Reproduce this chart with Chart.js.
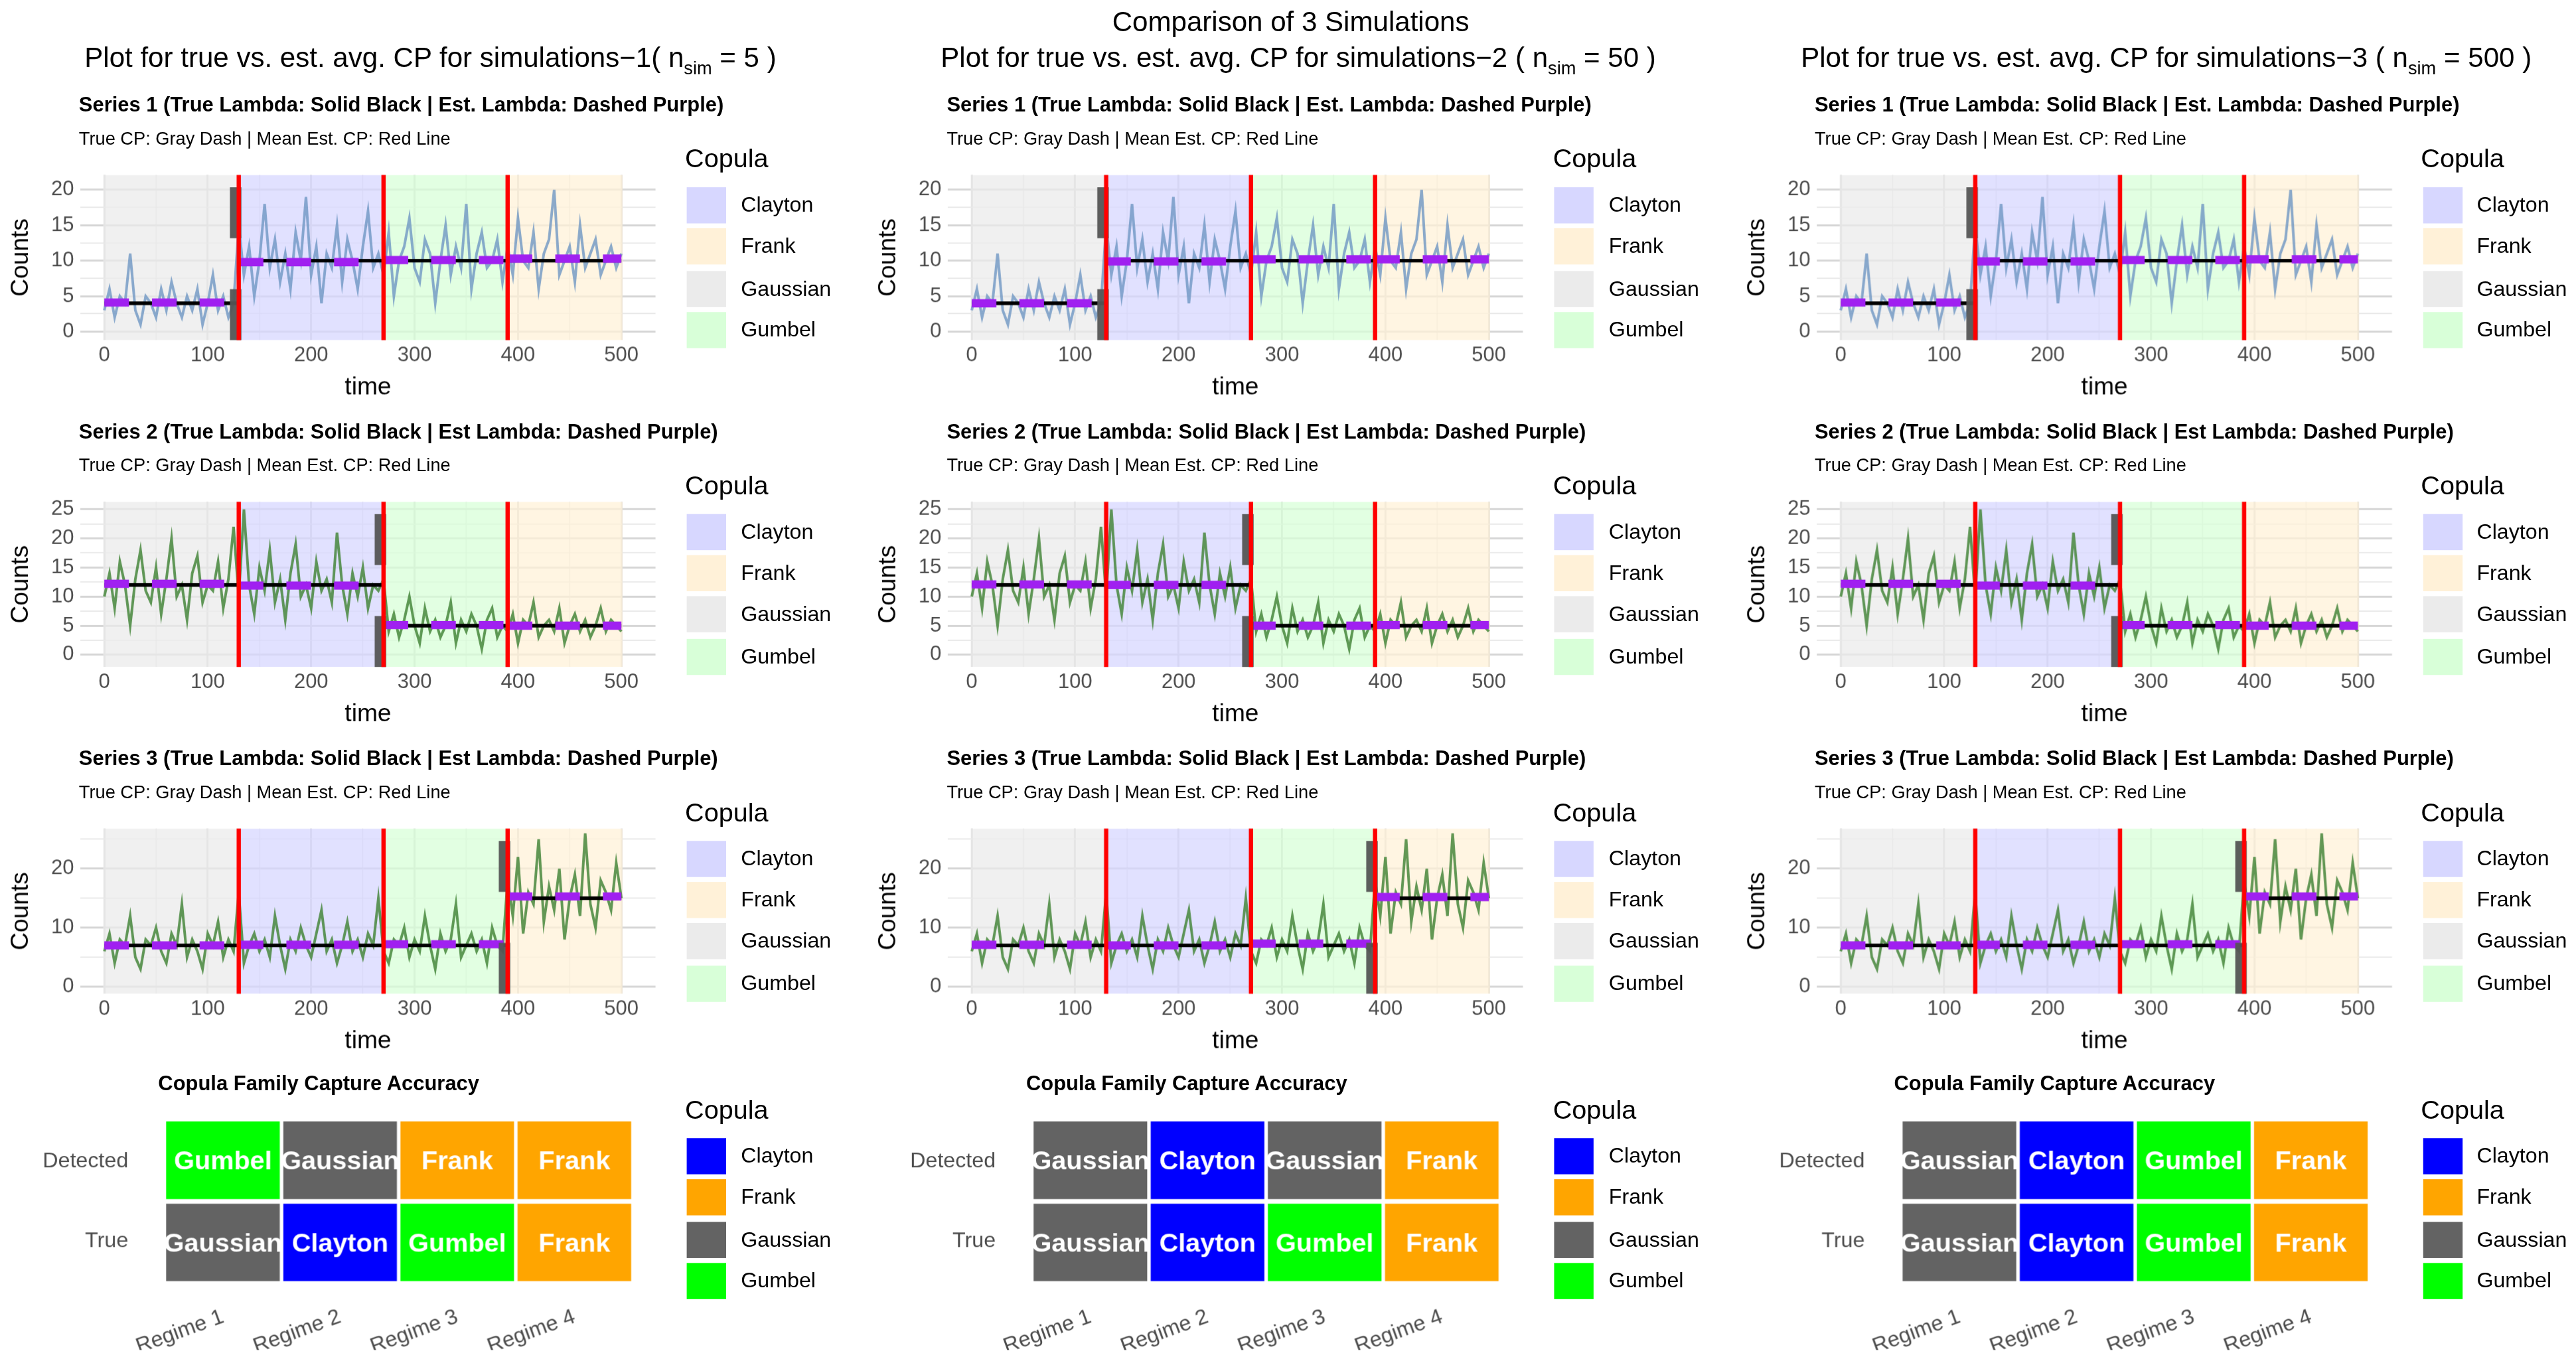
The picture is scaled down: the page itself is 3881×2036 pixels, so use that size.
<!DOCTYPE html>
<html><head><meta charset="utf-8">
<script src="https://cdn.jsdelivr.net/npm/chart.js@4"></script>
<style>
html,body{margin:0;padding:0;background:#fff;overflow:hidden}
#root{position:absolute;left:0;top:0;width:1568px;height:823px;transform:scale(2.4751);transform-origin:0 0;font-family:"Liberation Sans",Arial,sans-serif;color:#000}
.t{position:absolute;white-space:nowrap}
canvas{position:absolute}
.lb{position:absolute;width:24px;height:22px}
</style></head><body><div id="root"></div>
<script>
// ---------- DATA ----------
const timeStep = 5;
const series1Values = [3,6,2,5,4,11,3,1,5,4,2,6,3,7,4,2,5,3,6,1,4,8,3,5,2,4,
 15,8,12,5,10,18,9,13,7,11,6,14,10,19,8,12,4,11,9,15,7,13,10,6,12,17,9,11,8,14,5,10,12,16,9,7,13,11,4,10,15,8,12,9,18,6,11,14,9,10,13,7,12,8,16,10,9,14,6,11,13,20,8,10,12,7,15,9,11,13,8,10,12,9,11];
const series2Values = [10,14,8,16,12,5,13,18,11,9,15,7,13,20,10,12,6,14,17,9,12,11,16,8,13,22,10,25,12,7,15,11,18,9,13,6,14,19,10,12,8,16,11,13,9,21,12,7,14,10,15,8,12,11,
 13,4,7,3,6,10,5,2,8,4,6,3,5,9,2,6,4,7,5,1,6,8,3,5,4,7,2,6,5,9,3,5,6,4,8,2,5,7,4,6,3,5,8,4,6,5,4];
const series3Values = [6,9,4,8,7,12,5,3,8,7,10,6,4,9,7,14,5,8,6,3,9,7,11,5,8,6,16,4,7,9,6,8,5,12,7,3,8,6,10,7,5,9,13,6,8,4,7,11,6,8,5,9,7,15,6,4,8,7,10,5,8,6,12,7,3,9,6,8,14,5,7,9,6,8,4,10,7,6,
 18,12,22,9,16,14,25,11,17,13,20,8,15,19,12,26,14,10,18,16,13,21,15];
const regimeBounds = [0,130,270,390,500];
const regimeFamilies = ["Gaussian","Clayton","Gumbel","Frank"];
const trueLambda = [[4,10,10,10],[12,12,5,5],[7,7,7,15]];
const trueCP = [127,267,387];
const estLambda = [
 [[4.1,9.8,10.1,10.3],[12.2,11.9,5.1,5.0],[7.0,7.1,7.2,15.3]],
 [[4.0,9.9,10.2,10.2],[12.1,12.0,5.0,5.1],[7.1,7.0,7.3,15.2]],
 [[4.1,9.9,10.1,10.2],[12.2,11.9,5.1,5.0],[7.0,7.1,7.2,15.3]]];
const estCP = [[130,270,390],[130,270,390],[130,270,390]];
const simSizes = [5,50,500];
const regimeLabels = ["Regime 1","Regime 2","Regime 3","Regime 4"];
const detectedFamilies = [["Gumbel","Gaussian","Frank","Frank"],["Gaussian","Clayton","Gaussian","Frank"],["Gaussian","Clayton","Gumbel","Frank"]];
const trueFamilies = ["Gaussian","Clayton","Gumbel","Frank"];
const legendNames = ["Clayton","Frank","Gaussian","Gumbel"];
// ---------- STYLE ----------
const regionFill = {Clayton:"rgb(215,215,255)",Frank:"rgb(255,241,216)",Gaussian:"rgb(235,235,235)",Gumbel:"rgb(216,255,216)"};
const tileFill = {Clayton:"#0000ff",Frank:"#ffa500",Gaussian:"#636363",Gumbel:"#00ff00"};
const seriesColor = ["rgba(110,150,195,0.8)","rgba(70,135,60,0.85)","rgba(70,135,60,0.85)"];
const yRanges = [[-1.2,22.1,[0,5,10,15,20],2.5],[-2.1,26.3,[0,5,10,15,20,25],2.5],[-1.2,26.8,[0,10,20],5]];
const seriesVals = [series1Values,series2Values,series3Values];
const root = document.getElementById('root');
const FONT = '"Liberation Sans", Arial, sans-serif';
Chart.defaults.font.family = FONT;
Chart.defaults.animation = false;
function txt(s,x,y,css){const d=document.createElement('div');d.className='t';d.innerHTML=s;d.style.left=x+'px';d.style.top=y+'px';d.style.cssText+=css||'';root.appendChild(d);return d;}
function legend(x,y,solid){
  txt('Copula',x,y-9,'font-size:16px;');
  legendNames.forEach((n,i)=>{const b=document.createElement('div');b.className='lb';b.style.left=(x+1)+'px';b.style.top=(y+17+i*25.3)+'px';b.style.background=solid?tileFill[n]:regionFill[n];root.appendChild(b);
    txt(n,x+34,y+20+i*25.3,'font-size:13px;');});
}
txt('Comparison of 3 Simulations',677,4,'font-size:17px;');
const regionsPlugin={id:'regions',beforeDatasetsDraw(ch,a,o){const p=ch.options.plugins.regions;if(!p||!p.on)return;const c=ch.ctx,xs=ch.scales.x,ca=ch.chartArea;
  c.save();c.beginPath();c.rect(ca.left,ca.top,ca.width,ca.height);c.clip();
  for(let i=0;i<4;i++){const x0=xs.getPixelForValue(regimeBounds[i]-(i==0?1:0)),x1=xs.getPixelForValue(regimeBounds[i+1]+(i==3?1:0));c.fillStyle=regionFill[regimeFamilies[i]];c.globalAlpha=0.75;c.fillRect(x0,ca.top,x1-x0,ca.height);}
  c.globalAlpha=1;c.restore();},
 afterDatasetsDraw(ch){const p=ch.options.plugins.regions;if(!p||!p.on)return;const c=ch.ctx,xs=ch.scales.x,ys=ch.scales.y,ca=ch.chartArea;
  c.save();
  const gx=xs.getPixelForValue(p.tcp);c.strokeStyle='rgba(85,85,85,0.95)';c.lineWidth=7;c.setLineDash([31,31]);c.beginPath();c.moveTo(gx,ca.bottom);c.lineTo(gx,ca.top);c.stroke();
  c.setLineDash([]);c.strokeStyle='#ff0000';c.lineWidth=2.6;
  p.ecp.forEach(v=>{const x=xs.getPixelForValue(v);c.beginPath();c.moveTo(x,ca.top);c.lineTo(x,ca.bottom);c.stroke();});
  c.restore();}};
Chart.register(regionsPlugin);
function segData(bounds,vals){const d=[];for(let i=0;i<4;i++){d.push({x:bounds[i],y:vals[i]});d.push({x:bounds[i+1],y:vals[i]});d.push({x:bounds[i+1],y:null});}return d;}
for(let c=0;c<3;c++){
  const ox=c*528.3;
  txt('Plot for true vs. est. avg. CP for simulations−'+(c+1)+(c==0?'(':' (')+' n<sub style="font-size:11px">sim</sub> = '+simSizes[c]+' )',ox+262,26,'font-size:17px;transform:translateX(-50%);');
  for(let r=0;r<3;r++){
    const oy=r*198.8;
    txt('Series '+(r+1)+(r==0?' (True Lambda: Solid Black | Est. Lambda: Dashed Purple)':' (True Lambda: Solid Black | Est Lambda: Dashed Purple)'),ox+48,oy+57,'font-size:12.5px;font-weight:bold;');
    txt('True CP: Gray Dash | Mean Est. CP: Red Line',ox+48,oy+78,'font-size:11px;');
    legend(ox+417,oy+97,false);
    const cv=document.createElement('canvas');cv.style.left=ox+'px';cv.style.top=(oy+95)+'px';cv.width=400;cv.height=150;cv.style.width='400px';cv.style.height='150px';root.appendChild(cv);
    const vals=seriesVals[r];const yr=yRanges[r];
    const pts=vals.map((v,i)=>({x:i*timeStep,y:v}));
    const estBounds=[0].concat(estCP[c]).concat([500]);
    new Chart(cv,{type:'line',data:{datasets:[
      {data:pts,borderColor:seriesColor[r],borderWidth:1.6,pointRadius:0,tension:0,order:3},
      {data:segData(regimeBounds,trueLambda[r]),borderColor:'#000',borderWidth:2.2,pointRadius:0,spanGaps:false,order:2},
      {data:segData(estBounds,estLambda[c][r]),borderColor:'#a020f0',borderWidth:5,borderDash:[15,14],pointRadius:0,spanGaps:false,order:1}]},
     options:{responsive:false,devicePixelRatio:2.4751,layout:{padding:{left:4,right:1,top:5,bottom:0}},
      plugins:{legend:{display:false},tooltip:{enabled:false},regions:{on:true,tcp:trueCP[r],ecp:estCP[c]}},
      scales:{x:{type:'linear',min:-23,max:533,border:{display:false},
         afterBuildTicks:s=>{s.ticks=[0,50,100,150,200,250,300,350,400,450,500].map(v=>({value:v}));},
         ticks:{autoSkip:false,maxRotation:0,color:'#4d4d4d',font:{size:12.5},padding:2,callback:v=>v%100==0?v:''},
         grid:{color:ctx=>ctx.tick&&ctx.tick.value%100==0?'rgba(210,210,210,0.9)':'rgba(225,225,225,0.8)',lineWidth:ctx=>ctx.tick&&ctx.tick.value%100==0?1.2:0.7,drawTicks:false},
         title:{display:true,text:'time',font:{size:15},color:'#000',padding:{top:0,bottom:0}},
         afterFit:s=>{s.height=38;}},
       y:{type:'linear',min:yr[0],max:yr[1],border:{display:false},
         afterBuildTicks:s=>{const t=[];for(let v=0;v<=yr[2][yr[2].length-1]+yr[3];v+=yr[3]){if(v<=yr[1])t.push({value:v});}s.ticks=t;},
         ticks:{autoSkip:false,color:'#4d4d4d',font:{size:12.5},padding:4,callback:v=>yr[2].includes(v)?v:''},
         grid:{color:ctx=>ctx.tick&&yr[2].includes(ctx.tick.value)?'rgba(210,210,210,0.9)':'rgba(225,225,225,0.8)',lineWidth:ctx=>ctx.tick&&yr[2].includes(ctx.tick.value)?1.2:0.7,drawTicks:false},
         title:{display:true,text:'Counts',font:{size:15},color:'#000',padding:{top:0,bottom:2}},
         afterFit:s=>{s.width=45;}}}}});
  }
  // heatmap
  txt('Copula Family Capture Accuracy',ox+194,653,'font-size:12.5px;font-weight:bold;transform:translateX(-50%);');
  legend(ox+417,676,true);
  const hc=document.createElement('canvas');hc.style.left=ox+'px';hc.style.top='661px';hc.width=395;hc.height=161;hc.style.width='395px';hc.style.height='161px';root.appendChild(hc);
  const det=detectedFamilies[c];
  new Chart(hc,{type:'bar',data:{labels:regimeLabels,datasets:[
     {data:regimeLabels.map(()=>[1.03,2]),backgroundColor:det.map(f=>tileFill[f]),names:det,grouped:false,barPercentage:0.97,categoryPercentage:1},
     {data:regimeLabels.map(()=>[0,0.97]),backgroundColor:trueFamilies.map(f=>tileFill[f]),names:trueFamilies,grouped:false,barPercentage:0.97,categoryPercentage:1}]},
   options:{responsive:false,devicePixelRatio:2.4751,layout:{padding:{left:0,right:10,top:5,bottom:0}},
    plugins:{legend:{display:false},tooltip:{enabled:false}},
    scales:{x:{grid:{display:false},border:{display:false},ticks:{color:'#4d4d4d',font:{size:13},minRotation:20,maxRotation:20,padding:6},afterFit:s=>{s.height=42;}},
      y:{min:0,max:2,grid:{display:false},border:{display:false},afterBuildTicks:s=>{s.ticks=[{value:0.5},{value:1.5}];},
        ticks:{color:'#4d4d4d',font:{size:13},padding:14,callback:v=>v==1.5?'Detected':'True'},afterFit:s=>{s.width=100;}}}},
   plugins:[{id:'tileText',afterDatasetsDraw(ch){const cx=ch.ctx;cx.save();cx.fillStyle='#fff';cx.font='bold 16px '+FONT;cx.textAlign='center';cx.textBaseline='middle';
     ch.data.datasets.forEach((ds,di)=>{ch.getDatasetMeta(di).data.forEach((el,i)=>{cx.fillText(ds.names[i],el.x,(el.y+el.base)/2+1);});});cx.restore();}}]});
}
</script></body></html>
